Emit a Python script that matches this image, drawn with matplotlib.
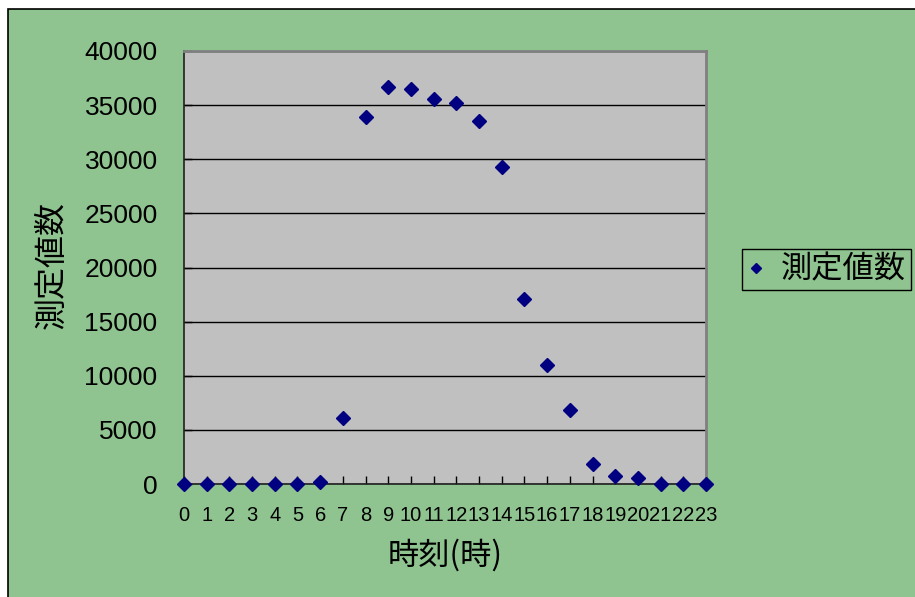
import matplotlib.pyplot as plt
from matplotlib.patches import Rectangle

# data
hours = list(range(24))
counts = [0, 0, 0, 0, 0, 0, 150, 6100, 33900, 36700, 36500, 35600, 35200, 33500,
          29300, 17100, 11000, 6850, 1850, 750, 550, 0, 0, 0]
y_ticks = list(range(0, 40001, 5000))
series_name = '測定値数'
x_title = '時刻(時)'
y_title = '測定値数'

plt.rcParams['font.family'] = ['Liberation Sans', 'Noto Sans CJK JP']
cjk = ['Noto Sans CJK JP', 'Liberation Sans']

W, H = 915, 597
fig = plt.figure(figsize=(W / 100, H / 100), dpi=100, facecolor='white')

# green chart area with black border
bg = Rectangle((8 / W, -0.05), 1.0, 1 - 9 / H + 0.05, transform=fig.transFigure,
               facecolor='#8fc38f', edgecolor='black', linewidth=1.2, zorder=-5)
fig.patches.append(bg)

ax = fig.add_axes([184 / W, (H - 484) / H, (706 - 184) / W, (484 - 51) / H])
ax.set_facecolor('#c0c0c0')

ax.plot(hours, counts, linestyle='none', marker='D', markersize=7.2,
        color='#000080', clip_on=False, zorder=5, label=series_name)

ax.set_xlim(0, 23)
ax.set_ylim(0, 40000)
ax.set_xticks(hours)
ax.set_xticklabels([str(h) for h in hours])
ax.set_yticks(y_ticks)
ax.set_yticklabels([str(v) for v in y_ticks])

ax.grid(axis='y', color='black', linewidth=1.0)
ax.set_axisbelow(True)
for side in ['left', 'bottom']:
    ax.spines[side].set_color('#202020')
    ax.spines[side].set_linewidth(1.2)
for side in ['top', 'right']:
    ax.spines[side].set_color('#808080')
    ax.spines[side].set_linewidth(2.0)
    ax.spines[side].set_zorder(3)

ax.tick_params(axis='x', direction='in', length=6, width=1, pad=16, labelsize=14.5)
ax.tick_params(axis='y', direction='in', length=6, width=1, pad=19, labelsize=19)

fig.text(445 / W, 1 - 555 / H, x_title, ha='center', va='center', fontsize=22.5,
         family=cjk)
fig.text(52 / W, 1 - 265 / H, y_title, ha='center', va='center', fontsize=23,
         rotation=90, family=cjk)

leg = ax.legend(loc='upper left', bbox_to_anchor=(742 / W, 1 - 249 / H),
                bbox_transform=fig.transFigure, borderaxespad=0,
                prop={'family': cjk, 'size': 22.5},
                fancybox=False, framealpha=1, handlelength=0.6, handletextpad=0.5,
                borderpad=0.15, markerscale=0.7)
leg.get_frame().set_facecolor('#8fc38f')
leg.get_frame().set_edgecolor('black')
leg.get_frame().set_linewidth(1.0)

fig.savefig('out.png', dpi=100, facecolor='white')
